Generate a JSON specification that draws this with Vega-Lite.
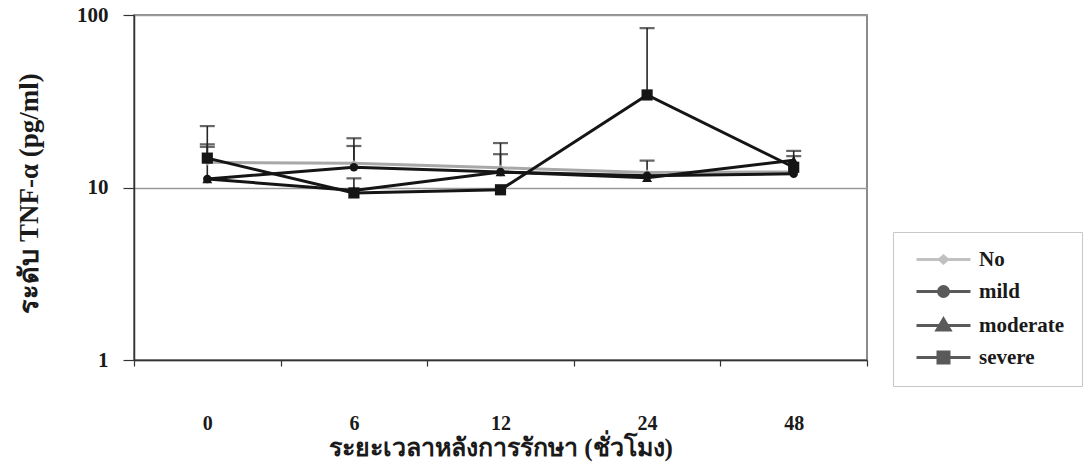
{
  "$schema": "https://vega.github.io/schema/vega-lite/v6.json",
  "autosize": {"type": "none"},
  "width": 733,
  "height": 345,
  "padding": {"left": 134, "top": 15, "right": 223, "bottom": 113},
  "background": "white",
  "config": {
    "font": "Liberation Serif",
    "view": {"stroke": "#666666", "strokeWidth": 1.5},
    "axis": {
      "labelFont": "Liberation Serif",
      "labelFontWeight": "bold",
      "labelColor": "#1a1a1a",
      "titleFont": "Liberation Serif",
      "titleFontWeight": "bold",
      "titleColor": "#1a1a1a",
      "domainColor": "#333333",
      "domainWidth": 1.5,
      "tickColor": "#333333",
      "tickWidth": 1.2
    }
  },
  "data": {
    "values": [
      {"time": "0", "series": "No", "value": 14.0, "upper": 17.8},
      {"time": "6", "series": "No", "value": 13.8, "upper": 17.4},
      {"time": "12", "series": "No", "value": 13.0, "upper": 15.6},
      {"time": "24", "series": "No", "value": 12.2, "upper": null},
      {"time": "48", "series": "No", "value": 12.3, "upper": null},
      {"time": "0", "series": "mild", "value": 11.2, "upper": 17.2},
      {"time": "6", "series": "mild", "value": 13.1, "upper": 19.3},
      {"time": "12", "series": "mild", "value": 12.3, "upper": 18.1},
      {"time": "24", "series": "mild", "value": 11.7, "upper": null},
      {"time": "48", "series": "mild", "value": 12.0, "upper": 16.3},
      {"time": "0", "series": "moderate", "value": 11.2, "upper": null},
      {"time": "6", "series": "moderate", "value": 9.6, "upper": 11.3},
      {"time": "12", "series": "moderate", "value": 12.3, "upper": null},
      {"time": "24", "series": "moderate", "value": 11.4, "upper": 14.3},
      {"time": "48", "series": "moderate", "value": 14.4, "upper": null},
      {"time": "0", "series": "severe", "value": 14.8, "upper": 22.7},
      {"time": "6", "series": "severe", "value": 9.3, "upper": null},
      {"time": "12", "series": "severe", "value": 9.7, "upper": null},
      {"time": "24", "series": "severe", "value": 34.4, "upper": 84},
      {"time": "48", "series": "severe", "value": 13.1, "upper": 15.2}
    ]
  },
  "encoding": {
    "x": {
      "field": "time",
      "type": "ordinal",
      "sort": ["0", "6", "12", "24", "48"],
      "scale": {"type": "band", "paddingInner": 0, "paddingOuter": 0},
      "axis": {
        "title": "ระยะเวลาหลังการรักษา (ชั่วโมง)",
        "labelAngle": 0,
        "labelFontSize": 20,
        "labelPadding": 47,
        "tickBand": "extent",
        "tickSize": 6,
        "titleFontSize": 25,
        "titleY": 95,
        "titleBaseline": "alphabetic"
      }
    }
  },
  "layer": [
    {
      "transform": [{"filter": "datum.upper != null"}],
      "mark": {"type": "rule", "strokeWidth": 1.6, "color": "#262626"},
      "encoding": {
        "y": {"field": "value", "type": "quantitative"},
        "y2": {"field": "upper"}
      }
    },
    {
      "transform": [{"filter": "datum.upper != null"}],
      "mark": {"type": "tick", "size": 15, "thickness": 2.2, "color": "#262626"},
      "encoding": {
        "y": {"field": "upper", "type": "quantitative"}
      }
    },
    {
      "mark": {"type": "line", "strokeWidth": 3},
      "encoding": {
        "y": {
          "field": "value",
          "type": "quantitative",
          "scale": {"type": "log", "domain": [1, 100], "nice": false},
          "axis": {
            "title": "ระดับ TNF-α (pg/ml)",
            "values": [1, 10, 100],
            "format": "d",
            "labelFontSize": 21,
            "labelPadding": 15,
            "tickSize": 11,
            "grid": true,
            "gridColor": "#9a9a9a",
            "gridWidth": 1.5,
            "titleFontSize": 27,
            "titleX": -91,
            "titleY": 178,
            "titleAlign": "center"
          }
        },
        "color": {
          "field": "series",
          "type": "nominal",
          "scale": {
            "domain": ["No", "mild", "moderate", "severe"],
            "range": ["#a8a8a8", "#151515", "#151515", "#151515"]
          },
          "legend": null
        },
        "strokeWidth": {
          "field": "series",
          "type": "nominal",
          "scale": {"domain": ["No", "mild", "moderate", "severe"], "range": [2.2, 3.4, 3.4, 3.4]},
          "legend": null
        }
      }
    },
    {
      "mark": {"type": "point", "filled": true, "opacity": 1},
      "encoding": {
        "y": {"field": "value", "type": "quantitative"},
        "color": {"field": "series", "type": "nominal", "legend": null},
        "shape": {
          "field": "series",
          "type": "nominal",
          "scale": {
            "domain": ["No", "mild", "moderate", "severe"],
            "range": ["diamond", "circle", "triangle-up", "square"]
          },
          "legend": null
        },
        "size": {
          "field": "series",
          "type": "ordinal",
          "scale": {"domain": ["No", "mild", "moderate", "severe"], "range": [45, 125, 170, 190]},
          "legend": null
        }
      }
    },
    {
      "transform": [{"filter": "false"}],
      "mark": {"type": "point", "filled": true, "strokeWidth": 3},
      "encoding": {
        "y": {"field": "value", "type": "quantitative"},
        "color": {
          "field": "series",
          "type": "nominal",
          "legend": {
            "title": null,
            "orient": "none",
            "legendX": 759,
            "legendY": 217,
            "padding": 17,
            "symbolSize": 100,
            "symbolOffset": 23,
            "labelOffset": 25,
            "rowPadding": 10,
            "labelFont": "Liberation Serif",
            "labelFontWeight": "bold",
            "labelFontSize": 21,
            "labelColor": "#1a1a1a",
            "strokeColor": "#c8c8c8",
            "symbolStrokeWidth": 3,
            "symbolStrokeColor": {"expr": "datum.value === 'No' ? '#a8a8a8' : '#151515'"}
          }
        },
        "stroke": {
          "field": "series",
          "type": "nominal",
          "scale": {
            "domain": ["No", "mild", "moderate", "severe"],
            "range": ["#a8a8a8", "#151515", "#151515", "#151515"]
          },
          "legend": null
        },
        "shape": {
          "field": "series",
          "type": "nominal",
          "scale": {
            "domain": ["No", "mild", "moderate", "severe"],
            "range": [
              "M-5.4,0H5.4M-0.8,0L0,-0.7L0.8,0L0,0.7Z",
              "M-5.4,0H5.4M-1.0,0A1.0,1.0 0 1,0 1.0,0A1.0,1.0 0 1,0 -1.0,0Z",
              "M-5.4,0H5.4M0,-1.3L1.3,0.9L-1.3,0.9Z",
              "M-5.4,0H5.4M-1.1,-1.1H1.1V1.1H-1.1Z"
            ]
          },
          "legend": {"title": null}
        }
      }
    }
  ],
  "resolve": {
    "scale": {"shape": "independent"},
    "legend": {"shape": "independent", "color": "independent"}
  }
}
